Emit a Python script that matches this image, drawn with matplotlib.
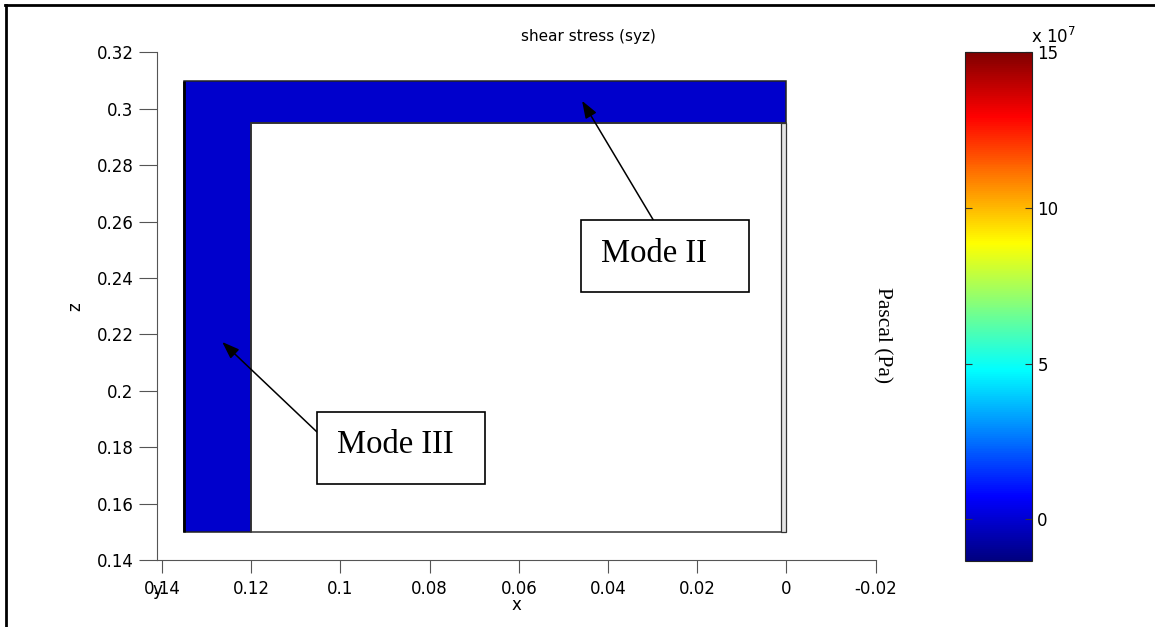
import matplotlib
matplotlib.use("Agg")
import matplotlib.pyplot as plt
from matplotlib.colors import LinearSegmentedColormap, Normalize
from matplotlib.cm import ScalarMappable
from matplotlib.patches import Polygon, Rectangle
from matplotlib.lines import Line2D

W, H, DPI = 1155, 627, 100

# ---- cross-section geometry (m) ----
section_x = [0.0, 0.135]        # x extent of the section
section_z = [0.15, 0.31]        # z extent of the section
flange_x = [0.12, 0.135]        # vertical leg
web_z = [0.295, 0.31]           # horizontal leg
edge_strip_x = [0.0, 0.0011]    # thin strip along x = 0

# ---- shear stress syz in each leg (Pa) ----
syz_flange = -1.0e6
syz_web = -1.0e6

# ---- colour scale (Pa) ----
syz_min, syz_max = -1.33e7, 1.5e8
cbar_ticks = [0, 5e7, 1e8, 1.5e8]
cbar_ticklabels = ["0", "5", "10", "15"]

# ---- axis ticks ----
x_ticks = [0.14, 0.12, 0.10, 0.08, 0.06, 0.04, 0.02, 0.0, -0.02]
x_ticklabels = ["0.14", "0.12", "0.1", "0.08", "0.06", "0.04", "0.02", "0", "-0.02"]
z_ticks = [0.14, 0.16, 0.18, 0.20, 0.22, 0.24, 0.26, 0.28, 0.30, 0.32]
z_ticklabels = ["0.14", "0.16", "0.18", "0.2", "0.22", "0.24", "0.26", "0.28", "0.3", "0.32"]

# annotation targets (data coords, m)
mode2_target = (0.0458, 0.3028)
mode3_target = (0.1265, 0.2173)

# MATLAB-style jet colormap
jet_m = LinearSegmentedColormap("jet_m", {
    "red":   [(0, 0, 0), (0.375, 0, 0), (0.625, 1, 1), (0.875, 1, 1), (1, 0.5, 0.5)],
    "green": [(0, 0, 0), (0.125, 0, 0), (0.375, 1, 1), (0.625, 1, 1), (0.875, 0, 0), (1, 0, 0)],
    "blue":  [(0, 0.5, 0.5), (0.125, 1, 1), (0.375, 1, 1), (0.625, 0, 0), (1, 0, 0)],
}, N=256)
norm = Normalize(vmin=syz_min, vmax=syz_max)

plt.rcParams["font.family"] = "DejaVu Sans"
fig = plt.figure(figsize=(W / DPI, H / DPI), dpi=DPI)
fig.patch.set_facecolor("white")


def fx(px):
    return px / W


def fy(py):
    return 1 - py / H


# ---- main axes ----
ax = fig.add_axes([fx(156.7), fy(560), fx(875.5) - fx(156.7), fy(52.3) - fy(560)])
ax.set_xlim(0.14119, -0.02)
ax.set_ylim(0.14, 0.32)
for s in ("top", "right"):
    ax.spines[s].set_visible(False)
for s in ("left", "bottom"):
    ax.spines[s].set_color("#555555")
    ax.spines[s].set_linewidth(0.8)
ax.set_xticks(x_ticks)
ax.set_xticklabels(x_ticklabels)
ax.set_yticks(z_ticks)
ax.set_yticklabels(z_ticklabels)
ax.tick_params(axis="y", direction="out", length=13, width=0.8, color="#555555",
               labelsize=12, pad=3.6)
ax.tick_params(axis="x", direction="out", length=9.4, width=0.8, color="#555555",
               labelsize=12, pad=5)

# stressed legs
ax.add_patch(Rectangle((flange_x[0], section_z[0]), flange_x[1] - flange_x[0],
                       web_z[0] - section_z[0], facecolor=jet_m(norm(syz_flange)),
                       edgecolor="none", zorder=2))
ax.add_patch(Rectangle((section_x[0], web_z[0]), section_x[1] - section_x[0],
                       web_z[1] - web_z[0], facecolor=jet_m(norm(syz_web)),
                       edgecolor="none", zorder=2))
# outline of the L-shaped region
ax.add_patch(Polygon([(section_x[1], section_z[0]), (flange_x[0], section_z[0]),
                      (flange_x[0], web_z[0]), (section_x[0], web_z[0]),
                      (section_x[0], section_z[1]), (section_x[1], section_z[1])],
                     closed=True, fill=False, edgecolor="#222222", lw=1.1, zorder=3))
ax.plot([section_x[1], section_x[1]], section_z, color="black", lw=2.0, zorder=4,
        solid_capstyle="butt")
# unstressed interior
ax.add_patch(Rectangle((section_x[0], section_z[0]), flange_x[0] - section_x[0],
                       web_z[0] - section_z[0], fill=False, edgecolor="#333333",
                       lw=1.1, zorder=3))
ax.add_patch(Rectangle((edge_strip_x[0], section_z[0]), edge_strip_x[1] - edge_strip_x[0],
                       web_z[0] - section_z[0], facecolor="#e4e4e4", edgecolor="#333333",
                       lw=0.9, zorder=3))

# axis labels
fig.text(fx(516), fy(605), "x", ha="center", va="center", fontsize=12)
fig.text(fx(75), fy(307), "z", ha="center", va="center", fontsize=12, rotation=90)
fig.text(fx(157.5), fy(590), "y", ha="center", va="center", fontsize=12)
fig.text(fx(521), fy(36), "shear stress (syz)", ha="left", va="center", fontsize=11)

# ---- colour bar ----
cax = fig.add_axes([fx(965), fy(560.7), fx(1031.7) - fx(965), fy(52.3) - fy(560.7)])
cb = fig.colorbar(ScalarMappable(norm=norm, cmap=jet_m), cax=cax, ticks=cbar_ticks)
cb.set_ticklabels(cbar_ticklabels)
cb.outline.set_linewidth(0.8)
cb.outline.set_edgecolor("#222222")
cax.tick_params(direction="in", length=5, width=0.8, color="#333333", left=True,
                right=True, labelsize=12, pad=4)
fig.text(fx(1031), fy(43), r"x 10$^{7}$", ha="left", va="baseline", fontsize=12)
fig.text(fx(882), fy(335), "Pascal (Pa)", ha="center", va="center", rotation=-90,
         fontsize=15.5, family="Liberation Serif")

# ---- callouts ----
for (x0, y0, x1, y1), label, tx, ty, start, target in [
    ((580.7, 220, 749, 292), "Mode II", 600.7, 261.7, (653.3, 220), mode2_target),
    ((317, 412, 485, 484), "Mode III", 336.7, 453.3, (317, 432), mode3_target),
]:
    fig.patches.append(Rectangle((fx(x0), fy(y1)), fx(x1) - fx(x0), fy(y0) - fy(y1),
                                 transform=fig.transFigure, facecolor="white",
                                 edgecolor="black", lw=1.2, zorder=5))
    fig.text(fx(tx), fy(ty), label, ha="left", va="baseline", fontsize=23.5,
             family="Liberation Serif", zorder=6)
    ax.annotate("", xy=target, xycoords="data",
                xytext=(fx(start[0]), fy(start[1])), textcoords="figure fraction",
                arrowprops=dict(arrowstyle="-|>,head_length=1.05,head_width=0.38",
                                mutation_scale=10, color="black", lw=1.1,
                                shrinkA=0, shrinkB=0), zorder=6, annotation_clip=False)

# page frame (top and left edges)
fig.add_artist(Line2D([fx(5), 1.0], [fy(5), fy(5)], transform=fig.transFigure,
                      color="black", lw=2.0))
fig.add_artist(Line2D([fx(6), fx(6)], [fy(5), 0.0], transform=fig.transFigure,
                      color="black", lw=2.0))

fig.savefig("out.png", dpi=DPI, facecolor="white")
